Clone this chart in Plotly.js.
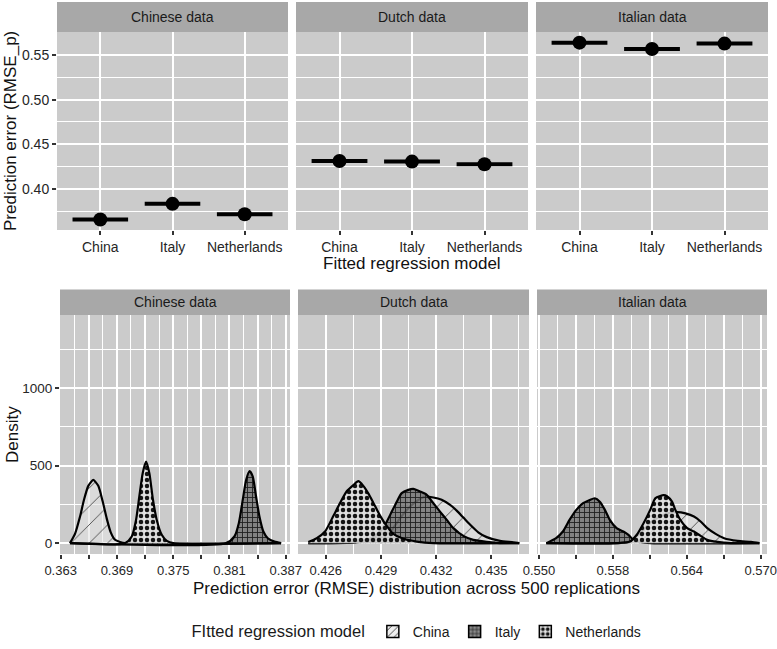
<!DOCTYPE html>
<html>
<head>
<meta charset="utf-8">
<script src="https://cdn.plot.ly/plotly-3.0.1.min.js"></script>
<style>html,body{margin:0;padding:0;background:#fff;}#chart{width:777px;height:649px;}</style>
</head>
<body>
<div id="chart"></div>
<script>
// ---------- DATA ----------
const models = ["China", "Italy", "Netherlands"];
const datasets = ["Chinese data", "Dutch data", "Italian data"];

// top row: mean prediction error (RMSE_p) per fitted model
const rmseChinese = [0.3657, 0.3833, 0.3717];
const rmseDutch = [0.4313, 0.4306, 0.4277];
const rmseItalian = [0.5638, 0.5567, 0.5627];

// bottom row: density curves
const chnChinaX = [0.36399, 0.36453, 0.36506, 0.36549, 0.36595, 0.36648, 0.36701, 0.36748, 0.36791, 0.36834, 0.36880, 0.36933, 0.36986, 0.38651];
const chnChinaY = [0, 60, 170, 280, 370, 408, 370, 270, 160, 70, 22, 8, 0, 0];
const chnItalyX = [0.36399, 0.38064, 0.38153, 0.38200, 0.38242, 0.38278, 0.38315, 0.38349, 0.38384, 0.38420, 0.38462, 0.38509, 0.38580, 0.38651];
const chnItalyY = [0, 0, 43, 129, 279, 408, 465, 430, 301, 172, 75, 32, 10, 0];
const chnNethX = [0.36399, 0.36986, 0.37058, 0.37104, 0.37139, 0.37175, 0.37211, 0.37246, 0.37282, 0.37325, 0.37378, 0.37432, 0.37502, 0.38651];
const chnNethY = [0, 0, 43, 150, 301, 452, 527, 452, 290, 150, 54, 15, 0, 0];

const dutChinaX = [0.42505, 0.42750, 0.42859, 0.42913, 0.42959, 0.43004, 0.43049, 0.43095, 0.43140, 0.43185, 0.43230, 0.43276, 0.43312, 0.43348, 0.43384, 0.43429, 0.43475, 0.43547, 0.43620, 0.43652];
const dutChinaY = [0, 4, 17, 43, 86, 161, 226, 272, 300, 295, 280, 247, 210, 165, 120, 70, 39, 15, 6, 0];
const dutItalyX = [0.42505, 0.42748, 0.42823, 0.42877, 0.42922, 0.42959, 0.42986, 0.43013, 0.43049, 0.43076, 0.43113, 0.43149, 0.43185, 0.43221, 0.43258, 0.43294, 0.43348, 0.43402, 0.43475, 0.43547, 0.43652];
const dutItalyY = [0, 5, 21, 54, 118, 204, 268, 323, 344, 350, 333, 312, 258, 204, 150, 97, 47, 21, 8, 0, 0];
const dutNethX = [0.42505, 0.42551, 0.42596, 0.42641, 0.42678, 0.42714, 0.42750, 0.42777, 0.42804, 0.42832, 0.42859, 0.42895, 0.42932, 0.42967, 0.43022, 0.43095, 0.43185, 0.43652];
const dutNethY = [8, 32, 75, 175, 260, 335, 375, 400, 370, 320, 260, 178, 110, 60, 28, 10, 0, 0];

const itaChinaX = [0.55260, 0.55830, 0.55939, 0.55994, 0.56049, 0.56117, 0.56184, 0.56253, 0.56321, 0.56389, 0.56458, 0.56512, 0.56566, 0.56634, 0.56703, 0.56812, 0.56921, 0.56989];
const itaChinaY = [0, 0, 10, 43, 86, 140, 172, 194, 200, 192, 172, 140, 97, 60, 32, 15, 8, 0];
const itaItalyX = [0.55260, 0.55339, 0.55394, 0.55448, 0.55503, 0.55558, 0.55612, 0.55653, 0.55694, 0.55735, 0.55775, 0.55830, 0.55885, 0.55926, 0.55967, 0.56021, 0.56103, 0.56989];
const itaItalyY = [0, 32, 75, 150, 215, 258, 279, 290, 268, 215, 150, 97, 75, 54, 21, 8, 0, 0];
const itaNethX = [0.55260, 0.55830, 0.55939, 0.55994, 0.56049, 0.56103, 0.56144, 0.56184, 0.56212, 0.56239, 0.56280, 0.56307, 0.56348, 0.56403, 0.56458, 0.56512, 0.56566, 0.56648, 0.56757, 0.56989];
const itaNethY = [0, 0, 10, 54, 129, 215, 290, 305, 310, 303, 268, 215, 150, 97, 75, 47, 21, 8, 0, 0];

// axis ticks
const topYTicks = [0.40, 0.45, 0.50, 0.55];
const topYLabels = ["0.40", "0.45", "0.50", "0.55"];
const botYTicks = [0, 500, 1000];
const botYLabels = ["0", "500", "1000"];
const chnXTicks = [0.363, 0.366, 0.369, 0.372, 0.375, 0.378, 0.381, 0.384, 0.387];
const chnXLabels = ["0.363", "", "0.369", "", "0.375", "", "0.381", "", "0.387"];
const dutXTicks = [0.426, 0.429, 0.432, 0.435];
const dutXLabels = ["0.426", "0.429", "0.432", "0.435"];
const itaXTicks = [0.552, 0.555, 0.558, 0.561, 0.564, 0.567, 0.570];
const itaXLabels = ["0.550", "", "0.558", "", "0.564", "", "0.570"];

// ---------- STYLE ----------
const W = 777, H = 649;
const FONT = "Liberation Sans, Arial, Helvetica, sans-serif";
const PANEL_BG = "#cbcbcb";
const STRIP_BG = "#a8a8a8";
const px = v => v / W;
const py = v => 1 - v / H;

const topXDom = [[57, 288], [296, 528], [536, 768]];
const botXDom = [[60, 290], [298, 529], [537, 767]];
const topYPix = [32, 230], topStrip = [2, 32];
const botYPix = [315, 554], botStrip = [289.5, 315];

const patterns = {
  China: {fillcolor: "rgba(230,230,230,0.6)", pattern: {shape: "/", fgcolor: "#4a4a4a", bgcolor: "rgba(228,228,228,0.6)", size: 13, solidity: 0.07, fillmode: "replace"}},
  Italy: {fillcolor: "rgba(110,110,110,0.85)", pattern: {shape: "+", fgcolor: "#1e1e1e", bgcolor: "rgba(118,118,118,0.85)", size: 5, solidity: 0.32, fillmode: "replace"}},
  Netherlands: {fillcolor: "rgba(228,228,228,0.85)", pattern: {shape: ".", fgcolor: "#141414", bgcolor: "rgba(224,224,224,0.85)", size: 6, solidity: 0.45, fillmode: "replace"}}
};

const traces = [];

// top row
const topSeries = [rmseChinese, rmseDutch, rmseItalian];
topSeries.forEach((vals, k) => {
  const sfx = k === 0 ? "" : String(k + 1);
  traces.push({
    type: "scatter", mode: "markers",
    x: models.map((m, i) => i), y: vals,
    xaxis: "x" + sfx, yaxis: "y" + sfx,
    marker: {color: "black", size: 14},
    error_x: {type: "constant", value: 0.385, thickness: 4, width: 0, color: "black"},
    showlegend: false, hoverinfo: "skip"
  });
});

// bottom row
const dens = [
  [[chnChinaX, chnChinaY], [chnItalyX, chnItalyY], [chnNethX, chnNethY]],
  [[dutChinaX, dutChinaY], [dutItalyX, dutItalyY], [dutNethX, dutNethY]],
  [[itaChinaX, itaChinaY], [itaItalyX, itaItalyY], [itaNethX, itaNethY]]
];
dens.forEach((panel, k) => {
  panel.forEach((xy, m) => {
    const name = models[m];
    traces.push({
      type: "scatter", mode: "lines",
      x: xy[0], y: xy[1],
      xaxis: "x" + (k + 4), yaxis: "y" + (k + 4),
      line: {color: "black", width: 2.2, shape: "spline", smoothing: 0.6},
      fill: "tozeroy",
      fillcolor: patterns[name].fillcolor,
      fillpattern: patterns[name].pattern,
      name: name, legendgroup: name, showlegend: false,
      hoverinfo: "skip"
    });
  });
});

// legend keys (square patterned boxes, no visible data)
models.forEach(name => {
  const p = patterns[name].pattern;
  traces.push({
    type: "bar", x: [null], y: [null], xaxis: "x4", yaxis: "y4",
    name: name, legendgroup: name, showlegend: true, hoverinfo: "skip",
    marker: {color: p.bgcolor, line: {color: "black", width: 1.5},
      pattern: {shape: p.shape, fgcolor: p.fgcolor, bgcolor: p.bgcolor, size: Math.min(p.size, 6), solidity: Math.max(p.solidity, 0.2)}}
  });
});

const tickFont = {family: FONT, size: 13.5, color: "#262626"};
function xAxis(dom, anchor, extra) {
  return Object.assign({
    domain: [px(dom[0]), px(dom[1])], anchor: anchor,
    showgrid: true, gridcolor: "white", gridwidth: 2,
    zeroline: false, showline: false,
    ticks: "outside", ticklen: 4, tickwidth: 2, tickcolor: "#333",
    tickfont: tickFont, fixedrange: true, ticklabeloverflow: "allow"
  }, extra);
}
function yAxis(ypix, anchor, extra) {
  return Object.assign({
    domain: [py(ypix[1]), py(ypix[0])], anchor: anchor,
    showgrid: true, gridcolor: "white", gridwidth: 2,
    zeroline: false, showline: false,
    ticks: "outside", ticklen: 4, tickwidth: 2, tickcolor: "#333",
    tickfont: tickFont, fixedrange: true
  }, extra);
}

const catAxis = {tickmode: "array", tickvals: models.map((m, i) => i), ticktext: models, range: [-0.6, 2.6], tickfont: {family: FONT, size: 14, color: "#262626"}};
const topY = {range: [0.354, 0.5757], tickmode: "array", tickvals: topYTicks, ticktext: topYLabels,
  minor: {tickmode: "linear", tick0: 0.375, dtick: 0.05, showgrid: true, gridcolor: "white", gridwidth: 1, ticks: ""},
  tickfont: {family: FONT, size: 14, color: "#262626"}};
const botY = {range: [-70, 1473], tickmode: "array", tickvals: botYTicks, ticktext: botYLabels,
  minor: {tickmode: "linear", tick0: 250, dtick: 500, showgrid: true, gridcolor: "white", gridwidth: 1, ticks: ""},
  tickfont: {family: FONT, size: 13.5, color: "#262626"}};
const minorX = t0 => ({tickmode: "linear", tick0: t0, dtick: 0.003, showgrid: true, gridcolor: "white", gridwidth: 1, ticks: ""});
const botXFont = {family: FONT, size: 13, color: "#262626"};

const layout = {
  width: W, height: H,
  margin: {l: 0, r: 0, t: 0, b: 0, pad: 0},
  paper_bgcolor: "white", plot_bgcolor: PANEL_BG,
  font: {family: FONT, color: "#1a1a1a"},
  hovermode: false,
  xaxis: xAxis(topXDom[0], "y", catAxis),
  xaxis2: xAxis(topXDom[1], "y2", catAxis),
  xaxis3: xAxis(topXDom[2], "y3", catAxis),
  yaxis: yAxis(topYPix, "x", topY),
  yaxis2: yAxis(topYPix, "x2", Object.assign({}, topY, {showticklabels: false, ticks: ""})),
  yaxis3: yAxis(topYPix, "x3", Object.assign({}, topY, {showticklabels: false, ticks: ""})),
  xaxis4: xAxis(botXDom[0], "y4", {range: [0.36293, 0.38746], tickmode: "array", tickvals: chnXTicks, ticktext: chnXLabels, minor: minorX(0.3615), tickfont: botXFont}),
  xaxis5: xAxis(botXDom[1], "y5", {range: [0.42449, 0.43705], tickmode: "array", tickvals: dutXTicks, ticktext: dutXLabels, minor: minorX(0.4245), tickfont: botXFont}),
  xaxis6: xAxis(botXDom[2], "y6", {range: [0.55184, 0.57051], tickmode: "array", tickvals: itaXTicks, ticktext: itaXLabels, minor: minorX(0.5505), tickfont: botXFont}),
  yaxis4: yAxis(botYPix, "x4", botY),
  yaxis5: yAxis(botYPix, "x5", Object.assign({}, botY, {showticklabels: false, ticks: ""})),
  yaxis6: yAxis(botYPix, "x6", Object.assign({}, botY, {showticklabels: false, ticks: ""})),
  shapes: [],
  annotations: [],
  legend: {
    orientation: "h", x: px(418), xanchor: "center", y: py(632), yanchor: "middle",
    title: {text: "FItted regression model", side: "left", font: {family: FONT, size: 16.5, color: "#1a1a1a"}},
    font: {family: FONT, size: 14, color: "#1a1a1a"},
    bgcolor: "rgba(0,0,0,0)", itemwidth: 30, traceorder: "normal"
  }
};

// strips
[[topXDom, topStrip], [botXDom, botStrip]].forEach(([doms, strip]) => {
  doms.forEach((d, k) => {
    layout.shapes.push({type: "rect", xref: "paper", yref: "paper",
      x0: px(d[0]), x1: px(d[1]), y0: py(strip[1]), y1: py(strip[0]),
      fillcolor: STRIP_BG, line: {width: 0}, layer: "above"});
    layout.annotations.push({xref: "paper", yref: "paper",
      x: px((d[0] + d[1]) / 2), y: py((strip[0] + strip[1]) / 2),
      text: datasets[k], showarrow: false, xanchor: "center", yanchor: "middle",
      font: {family: FONT, size: 14, color: "#1a1a1a"}});
  });
});

// axis titles
const titleFont = {family: FONT, size: 17, color: "#111"};
layout.annotations.push(
  {xref: "paper", yref: "paper", x: px(412), y: py(263), text: "Fitted regression model", showarrow: false, xanchor: "center", yanchor: "middle", font: titleFont},
  {xref: "paper", yref: "paper", x: px(416), y: py(588), text: "Prediction error (RMSE) distribution across 500 replications", showarrow: false, xanchor: "center", yanchor: "middle", font: titleFont},
  {xref: "paper", yref: "paper", x: px(11), y: py(131), text: "Prediction error (RMSE_p)", textangle: -90, showarrow: false, xanchor: "center", yanchor: "middle", font: titleFont},
  {xref: "paper", yref: "paper", x: px(12), y: py(435), text: "Density", textangle: -90, showarrow: false, xanchor: "center", yanchor: "middle", font: titleFont}
);

Plotly.newPlot("chart", traces, layout, {staticPlot: true, displayModeBar: false});
</script>
</body>
</html>
